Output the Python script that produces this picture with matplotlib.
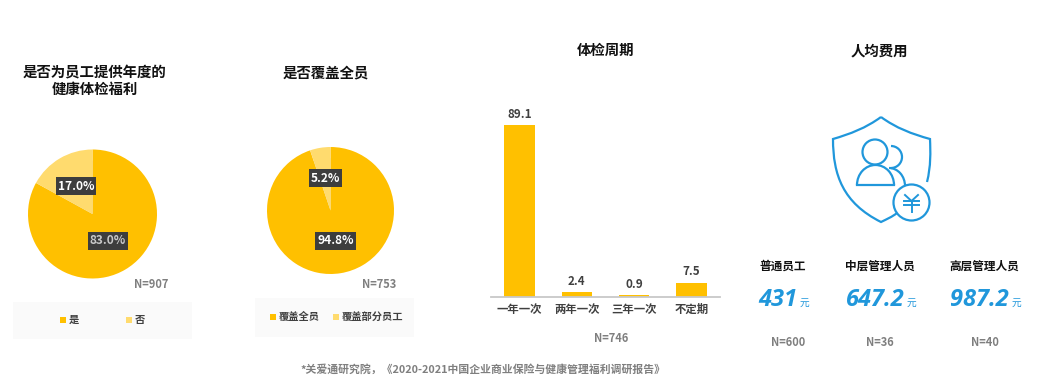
import matplotlib
matplotlib.use('Agg')
import matplotlib.pyplot as plt
from matplotlib.patches import Rectangle, Circle, Arc, PathPatch
from matplotlib.path import Path

plt.rcParams['font.family'] = ['Noto Sans CJK SC', 'DejaVu Sans']

W, H = 1039, 390
GOLD = '#ffc000'
PALE = '#ffdb6e'
GREY = '#7f7f7f'
BLUE = '#2097db'

# pie data
pie1_labels = ['是', '否']
pie1_values = [83.0, 17.0]
pie2_labels = ['覆盖全员', '覆盖部分员工']
pie2_values = [94.8, 5.2]

# bar data
bar_labels = ['一年一次', '两年一次', '三年一次', '不定期']
bar_values = [89.1, 2.4, 0.9, 7.5]

# cost per person
cost_labels = ['普通员工', '中层管理人员', '高层管理人员']
cost_values = ['431', '647.2', '987.2']
cost_n = ['N=600', 'N=36', 'N=40']

fig = plt.figure(figsize=(W / 100, H / 100), dpi=100, facecolor='white')


def px_axes(x0, y0, x1, y1):
    # axes from pixel box, y counted from the top
    return fig.add_axes([x0 / W, 1 - y1 / H, (x1 - x0) / W, (y1 - y0) / H])


# overlay in pixel coordinates for text and the icon
bg = px_axes(0, 0, W, H)
bg.set_xlim(0, W)
bg.set_ylim(H, 0)
bg.axis('off')
bg.set_zorder(10)


def title(x, y, s):
    bg.text(x, y, s, ha='center', va='center', fontsize=10.4, fontweight='bold', color='#111111', linespacing=1.2)


def grey_note(x, y, s, size=8):
    bg.text(x, y, s, ha='center', va='center', fontsize=size, fontweight='bold', color=GREY)


def pie(cx, cy, r, values, label_pos, text_colors):
    # soft edge round the pie
    halo = px_axes(cx - r - 2, cy - r - 2, cx + r + 2, cy + r + 2)
    halo.pie([1], colors=['#efefef'], radius=1)
    ax = px_axes(cx - r, cy - r, cx + r, cy + r)
    ax.pie(values, colors=[GOLD, PALE], startangle=90, counterclock=False, radius=1)
    ax.set_xlim(-1, 1)
    ax.set_ylim(-1, 1)
    for v, (lx, ly), tc in zip(values, label_pos, text_colors):
        bg.text(lx, ly, f'{v:.1f}%', ha='center', va='center', fontsize=8.6, fontweight='bold', color=tc, zorder=7,
                bbox=dict(boxstyle='square,pad=0.18', facecolor='#3d3d3d', edgecolor='none'))


def legend_row(items):
    for x, y, color, s in items:
        bg.add_patch(Rectangle((x, y - 3), 6, 6, facecolor=color, edgecolor='none'))
        bg.text(x + 9, y, s, ha='left', va='center', fontsize=7.4, fontweight='bold', color='#404040')


title(95, 82, '是否为员工提供年度的\n健康体检福利')
title(326, 73, '是否覆盖全员')
title(606, 51, '体检周期')
title(879, 51, '人均费用')

pie(92.5, 214, 64.5, pie1_values, [(108, 241), (76, 186)], ['#c8c8c8', 'white'])
pie(330.5, 210.5, 63.5, pie2_values, [(335.5, 241), (325.5, 178)], ['white', 'white'])
grey_note(151, 284, 'N=907')
grey_note(379, 284, 'N=753')

bg.add_patch(Rectangle((13, 302), 179, 37, facecolor='#fafafa', edgecolor='none'))
bg.add_patch(Rectangle((255, 298), 159, 39, facecolor='#fafafa', edgecolor='none'))
legend_row([(60, 320, GOLD, pie1_labels[0]), (126, 320, PALE, pie1_labels[1])])
legend_row([(270, 317, GOLD, pie2_labels[0]), (333, 317, PALE, pie2_labels[1])])

# bar chart
ax = px_axes(491, 100, 720, 297)
ax.bar(range(len(bar_values)), bar_values, width=0.53, color=GOLD)
ax.set_xlim(-0.5, 3.5)
ax.set_ylim(0, 102)
ax.set_xticks(range(len(bar_labels)))
ax.set_xticklabels(bar_labels, fontsize=8.2, color='#404040', fontweight='bold')
ax.tick_params(axis='x', length=0, pad=4)
ax.set_yticks([])
for s in ['top', 'left', 'right']:
    ax.spines[s].set_visible(False)
ax.spines['bottom'].set_color('#c8c8c8')
ax.spines['bottom'].set_linewidth(1.3)
for i, v in enumerate(bar_values):
    ax.annotate(f'{v}', (i, v), xytext=(0, 3), textcoords='offset points', ha='center', va='bottom',
                fontsize=8.4, fontweight='bold', color='#404040')
ax.patch.set_alpha(0)
grey_note(611, 338, 'N=746')

# shield icon
lw = 1.6
shield = Path(
    [(881, 117), (866, 128), (850, 134), (833, 139),
     (833, 175), (843, 203), (881, 222),
     (887, 219), (892, 217), (897, 213)],
    [Path.MOVETO, Path.CURVE4, Path.CURVE4, Path.CURVE4,
     Path.CURVE4, Path.CURVE4, Path.CURVE4,
     Path.CURVE4, Path.CURVE4, Path.CURVE4])
bg.add_patch(PathPatch(shield, fill=False, edgecolor=BLUE, lw=lw))
shield_r = Path(
    [(881, 117), (896, 128), (912, 134), (930, 139),
     (930.5, 152), (931, 166), (927, 182)],
    [Path.MOVETO, Path.CURVE4, Path.CURVE4, Path.CURVE4,
     Path.CURVE4, Path.CURVE4, Path.CURVE4])
bg.add_patch(PathPatch(shield_r, fill=False, edgecolor=BLUE, lw=lw))
bg.add_patch(Circle((875, 152), 12.5, fill=False, edgecolor=BLUE, lw=lw))
bg.plot([857, 894], [185, 185], color=BLUE, lw=lw)
bg.add_patch(Arc((875.5, 185), 37, 40, theta1=180, theta2=360, edgecolor=BLUE, lw=lw))
bg.add_patch(Arc((891, 157), 22, 22, theta1=270, theta2=90, edgecolor=BLUE, lw=lw))
bg.add_patch(Arc((889, 186), 32, 36, theta1=270, theta2=360, edgecolor=BLUE, lw=lw))
bg.add_patch(Circle((911.5, 202.5), 18, facecolor='white', edgecolor=BLUE, lw=lw, zorder=3))
for xs, ys in [([905, 911.5, 918], [195, 201, 195]), ([904, 919], [201, 201]),
               ([904, 919], [205, 205]), ([911.5, 911.5], [201, 212])]:
    bg.plot(xs, ys, color=BLUE, lw=1.4, zorder=4)

# cost figures
label_x = [783, 880, 984]
note_x = [788, 880, 985]
for x, lab in zip(label_x, cost_labels):
    bg.text(x, 266, lab, ha='center', va='center', fontsize=8.4, fontweight='bold', color='#111111')
for x, n in zip(note_x, cost_n):
    grey_note(x, 343, n)
value_x = [758, 846, 950]
unit_x = [800, 907, 1012]
for vx, ux, val in zip(value_x, unit_x, cost_values):
    bg.text(vx, 300, val, ha='left', va='center', fontsize=17, fontweight='bold', fontstyle='italic',
            family='Open Sans', color=BLUE)
    bg.text(ux, 303, '元', ha='left', va='center', fontsize=7, color=BLUE)

bg.text(483, 369, '*关爱通研究院，《2020-2021中国企业商业保险与健康管理福利调研报告》', ha='center', va='center',
        fontsize=7.8, fontweight='bold', color=GREY)

fig.savefig('out.png', dpi=100)
